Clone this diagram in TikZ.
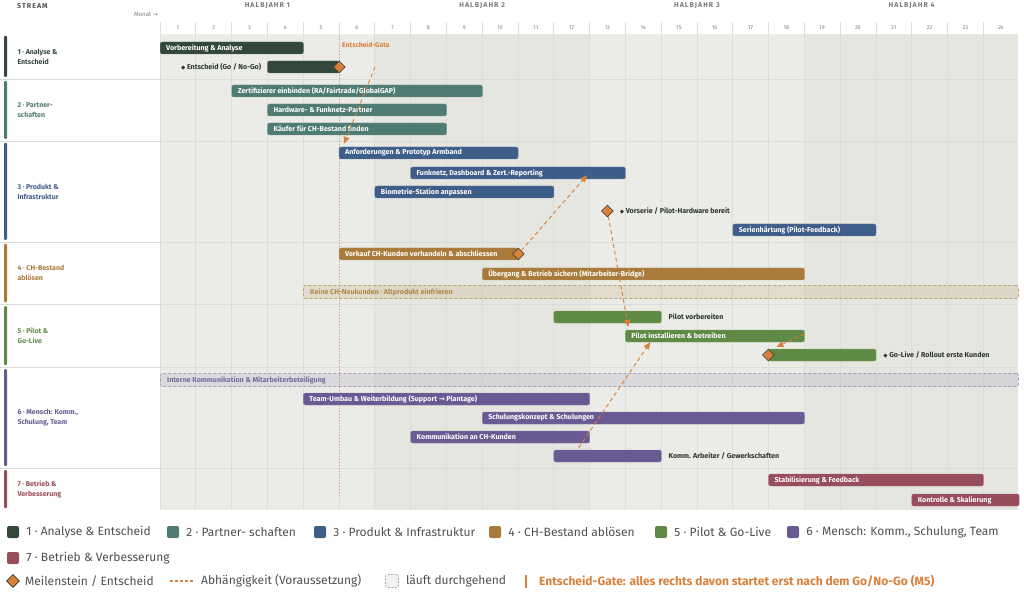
\documentclass[tikz,border=0pt]{standalone}
\usepackage{fontspec}
\setmainfont{Fira Sans}
\newfontfamily\symfont{DejaVu Sans}
\usetikzlibrary{arrows.meta, positioning, calc, shapes.geometric}
\definecolor{streamA}{HTML}{33473A}
\definecolor{streamB}{HTML}{4E7B73}
\definecolor{streamC}{HTML}{3F5D89}
\definecolor{streamD}{HTML}{A97B3B}
\definecolor{streamE}{HTML}{5F8A45}
\definecolor{streamF}{HTML}{695A93}
\definecolor{streamG}{HTML}{984D5A}
\definecolor{gateOrange}{HTML}{D9803A}
\definecolor{chartLight}{HTML}{EBECE7}
\definecolor{chartDark}{HTML}{E4E6DF}
\definecolor{gridGrey}{HTML}{DCDFD7}
\definecolor{rowGrey}{HTML}{DADDD6}
\definecolor{headGrey}{HTML}{7A7A7A}
\definecolor{darkText}{HTML}{2E3630}
\definecolor{legendGrey}{HTML}{4F4F4F}
\newcommand{\GanttBar}[6]{%
    \pgfmathsetmacro{\barX}{160+#3*35.79}%
    \pgfmathsetmacro{\barW}{(#4-#3)*35.79}%
    \node[barBox, fill=#2, draw=#2!80!white, minimum width=\barW pt] (#1) at (\barX,#5) {};%
    \node[barText] (#1Text) at ([xshift=6pt]#1.west) {#6};%
}
\newcommand{\GanttBlock}[5]{%
    \pgfmathsetmacro{\barX}{160+#3*35.79}%
    \pgfmathsetmacro{\barW}{(#4-#3)*35.79}%
    \node[barBox, fill=#2, draw=#2!80!white, minimum width=\barW pt] (#1) at (\barX,#5) {};%
}
\newcommand{\DrawStream}[5]{%
    \fill[#2, rounded corners=1pt] (4,#3+2) rectangle (7,#4-2);%
    \node[streamLabel, text=#2] (#1) at (14,{(#3+#4)/2}) {#5};%
}
\tikzset{
    % Common
    gridLine/.style={draw=gridGrey, line width=0.6pt},
    rowLine/.style={draw=rowGrey, line width=0.9pt},
    % Header
    headLabel/.style={font=\bfseries\fontsize{7}{8}\selectfont\addfontfeature{LetterSpace=15}, text=darkText!85},
    halfLabel/.style={font=\bfseries\fontsize{7}{8}\selectfont\addfontfeature{LetterSpace=15}, text=headGrey},
    monthNum/.style={font=\fontsize{5.5}{6}\selectfont, text=headGrey},
    monthHint/.style={font=\fontsize{6}{7}\selectfont, text=headGrey, inner sep=0pt},
    streamLabel/.style={font=\bfseries\fontsize{7}{10}\selectfont, align=left, anchor=west},
    % Bars
    barBox/.style={rectangle, rounded corners=2pt, minimum height=12pt, inner sep=0pt, anchor=west, line width=0.4pt},
    barText/.style={font=\bfseries\fontsize{7.1}{7}\selectfont, text=white, anchor=west, inner sep=0pt},
    sideText/.style={font=\bfseries\fontsize{7.1}{7}\selectfont, text=darkText, inner sep=0pt},
    bulletSym/.style={},
    ongoingBox/.style={rectangle, rounded corners=2pt, dash pattern=on 3pt off 2pt, line width=0.8pt, minimum height=13pt, inner sep=0pt, anchor=west},
    milestone/.style={diamond, draw=darkText, fill=gateOrange, minimum size=12pt, inner sep=0pt, line width=0.6pt},
    % Dependencies
    depArrow/.style={-{Triangle[length=7pt, width=6pt]}, draw=gateOrange, line width=0.9pt, dash pattern=on 4pt off 3pt},
    gateLine/.style={draw=gateOrange!80, line width=0.9pt, dash pattern=on 1pt off 2pt},
    gateLabel/.style={font=\bfseries\fontsize{6.8}{7}\selectfont, text=gateOrange, anchor=west, inner sep=0pt},
    % Legend
    legendSwatch/.style={rectangle, rounded corners=2pt, minimum size=12pt, inner sep=0pt},
    legendText/.style={font=\fontsize{12}{14}\selectfont, text=legendGrey, inner sep=1pt}
}
\newcommand{\MsDot}{{\symfont\fontsize{5.5}{6}\selectfont ◆}}
\begin{document}
\begin{tikzpicture}[x=1pt, y=-1pt]
    \useasboundingbox (0,0) rectangle (1024,593);
    % header
    \node[headLabel, anchor=west, inner sep=0pt] (streamHead) at (17,6) {STREAM};
    \node[monthHint, anchor=east] (monatHint) at (158,14) {Monat {\symfont →}};
    \foreach \h in {1,...,4}
        \node[halfLabel] (half\h) at ({160+(\h-0.5)*6*35.79},6) {HALBJAHR \h};
    % chart background, half years shaded
    \fill[chartLight] (160,34) rectangle (1018,510);
    \fill[chartDark] ({160+6*35.79},34) rectangle ({160+12*35.79},510);
    \fill[chartDark] ({160+18*35.79},34) rectangle (1018,510);
    \foreach \m in {0,...,23}
        \draw[gridLine] ({160+\m*35.79},22) -- ({160+\m*35.79},510);
    \foreach \m in {1,...,24}
        \node[monthNum] (month\m) at ({160+(\m-0.5)*35.79},28) {\m};
    \foreach \yy in {79,141,242,304,367,468}
        \draw[rowLine] (0,\yy) -- (1018,\yy);
    % streams
    \DrawStream{streamOne}{streamA}{34}{79}{1 · Analyse \&\\Entscheid}
    \DrawStream{streamTwo}{streamB}{79}{141}{2 · Partner-\\schaften}
    \DrawStream{streamThree}{streamC}{141}{242}{3 · Produkt \&\\Infrastruktur}
    \DrawStream{streamFour}{streamD}{242}{304}{4 · CH-Bestand\\ablösen}
    \DrawStream{streamFive}{streamE}{304}{367}{5 · Pilot \&\\Go-Live}
    \DrawStream{streamSix}{streamF}{367}{468}{6 · Mensch: Komm.,\\Schulung, Team}
    \DrawStream{streamSeven}{streamG}{468}{510}{7 · Betrieb \&\\Verbesserung}
    % gate
    \draw[gateLine] (339,36) -- (339,496);
    \node[gateLabel] (gateText) at (342,45) {Entscheid-Gate};
    % ongoing boxes
    \node[ongoingBox, fill=streamD, fill opacity=0.15, draw=streamD!70, minimum width=715pt] (keineNeu) at (303,292) {};
    \node[barText, text=streamD!90!white] (keineNeuText) at ([xshift=7pt]keineNeu.west) {Keine CH-Neukunden · Altprodukt einfrieren};
    \node[ongoingBox, fill=streamF, fill opacity=0.13, draw=streamF!60, minimum width=858pt] (interneKomm) at (160,380) {};
    \node[barText, text=streamF!90!white] (interneKommText) at ([xshift=7pt]interneKomm.west) {Interne Kommunikation \& Mitarbeiterbeteiligung};
    % stream 1
    \GanttBar{vorbereitung}{streamA}{0}{4}{48}{Vorbereitung \& Analyse}
    \GanttBlock{entscheid}{streamA}{3}{5}{67}
    \node[sideText, anchor=east] (entscheidText) at ([xshift=-6pt]entscheid.west) {\MsDot{} Entscheid (Go / No-Go)};
    % stream 2
    \GanttBar{zertifizierer}{streamB}{2}{9}{91}{Zertifizierer einbinden (RA/Fairtrade/GlobalGAP)}
    \GanttBar{hwPartner}{streamB}{3}{8}{110}{Hardware- \& Funknetz-Partner}
    \GanttBar{kaeufer}{streamB}{3}{8}{129}{Käufer für CH-Bestand finden}
    % stream 3
    \GanttBar{anforderungen}{streamC}{5}{10}{153}{Anforderungen \& Prototyp Armband}
    \GanttBar{funknetz}{streamC}{7}{13}{173}{Funknetz, Dashboard \& Zert.-Reporting}
    \GanttBar{biometrie}{streamC}{6}{11}{192}{Biometrie-Station anpassen}
    \GanttBar{serie}{streamC}{16}{20}{230}{Serienhärtung (Pilot-Feedback)}
    % stream 4
    \GanttBar{verkauf}{streamD}{5}{10}{254}{Verkauf CH-Kunden verhandeln \& abschliessen}
    \GanttBar{uebergang}{streamD}{9}{18}{274}{Übergang \& Betrieb sichern (Mitarbeiter-Bridge)}
    % stream 5
    \GanttBlock{pilotVor}{streamE}{11}{14}{317}
    \node[sideText, anchor=west] (pilotVorText) at ([xshift=7pt]pilotVor.east) {Pilot vorbereiten};
    \GanttBar{pilotInst}{streamE}{13}{18}{336}{Pilot installieren \& betreiben}
    \GanttBlock{goLive}{streamE}{17}{20}{355}
    \node[sideText, anchor=west] (goLiveText) at ([xshift=7pt]goLive.east) {\MsDot{} Go-Live / Rollout erste Kunden};
    % stream 6
    \GanttBar{teamUmbau}{streamF}{4}{12}{399}{Team-Umbau \& Weiterbildung (Support {\symfont →} Plantage)}
    \GanttBar{schulung}{streamF}{9}{18}{418}{Schulungskonzept \& Schulungen}
    \GanttBar{kommCH}{streamF}{7}{12}{437}{Kommunikation an CH-Kunden}
    \GanttBlock{kommArb}{streamF}{11}{14}{456}
    \node[sideText, anchor=west] (kommArbText) at ([xshift=7pt]kommArb.east) {Komm. Arbeiter / Gewerkschaften};
    % stream 7
    \GanttBar{stabil}{streamG}{17}{23}{480}{Stabilisierung \& Feedback}
    \GanttBar{kontrolle}{streamG}{21}{24}{500}{Kontrolle \& Skalierung}
    % milestones
    \node[milestone] (msEntscheid) at (entscheid.east) {};
    \node[milestone] (msPilotHw) at ({160+12.5*35.79},211) {};
    \node[sideText, anchor=west] (pilotHwText) at ([xshift=6pt]msPilotHw.east) {\MsDot{} Vorserie / Pilot-Hardware bereit};
    \node[milestone] (msVerkauf) at (verkauf.east) {};
    \node[milestone] (msGoLive) at (goLive.west) {};
    % dependencies
    \coordinate (depStart) at (375,67);
    \draw[depArrow] (depStart) -- ([xshift=5pt, yshift=3pt]anforderungen.north west);
    \draw[depArrow] (msVerkauf) -- ([xshift=69pt, yshift=4pt]funknetz.south);
    \draw[depArrow] (msPilotHw) -- ([xshift=3pt, yshift=3pt]pilotInst.north west);
    \draw[depArrow] ([xshift=25pt, yshift=2pt]kommArb.north west) -- ([xshift=25pt]pilotInst.south west);
    \draw[depArrow] ([yshift=2pt]pilotInst.east) -- ([xshift=8pt, yshift=8pt]msGoLive.center);
    % legend
    \node[legendSwatch, fill=streamA] (keyA) at (13,532) {};
    \node[legendText, right=6pt of keyA] (keyAText) {1 · Analyse \& Entscheid};
    \node[legendSwatch, fill=streamB] (keyB) at (173,532) {};
    \node[legendText, right=6pt of keyB] (keyBText) {2 · Partner- schaften};
    \node[legendSwatch, fill=streamC] (keyC) at (320,532) {};
    \node[legendText, right=6pt of keyC] (keyCText) {3 · Produkt \& Infrastruktur};
    \node[legendSwatch, fill=streamD] (keyD) at (495,532) {};
    \node[legendText, right=6pt of keyD] (keyDText) {4 · CH-Bestand ablösen};
    \node[legendSwatch, fill=streamE] (keyE) at (661,532) {};
    \node[legendText, right=6pt of keyE] (keyEText) {5 · Pilot \& Go-Live};
    \node[legendSwatch, fill=streamF] (keyF) at (793,532) {};
    \node[legendText, right=6pt of keyF] (keyFText) {6 · Mensch: Komm., Schulung, Team};
    \node[legendSwatch, fill=streamG] (keyG) at (13,558) {};
    \node[legendText, right=6pt of keyG] (keyGText) {7 · Betrieb \& Verbesserung};
    \node[milestone, minimum size=13pt] (keyMs) at (13,581) {};
    \node[legendText, right=4pt of keyMs] (keyMsText) {Meilenstein / Entscheid};
    \coordinate (keyDepA) at (170,581);
    \coordinate (keyDepB) at (195,581);
    \draw[draw=gateOrange, line width=1.2pt, dash pattern=on 3pt off 2pt] (keyDepA) -- (keyDepB);
    \node[legendText, anchor=west] (keyDepText) at (200,581) {Abhängigkeit (Voraussetzung)};
    \node[legendSwatch, minimum size=13pt, fill=gray!10, draw=gray!70, dash pattern=on 2pt off 1.5pt, line width=0.6pt] (keyOngoing) at (392,581) {};
    \node[legendText, right=6pt of keyOngoing] (keyOngoingText) {läuft durchgehend};
    \fill[gateOrange] (525,575) rectangle (527,588);
    \node[legendText, anchor=west, text=gateOrange, font=\bfseries\fontsize{12}{14}\selectfont] (keyGateText) at (538,581) {Entscheid-Gate: alles rechts davon startet erst nach dem Go/No-Go (M5)};
\end{tikzpicture}
\end{document}
